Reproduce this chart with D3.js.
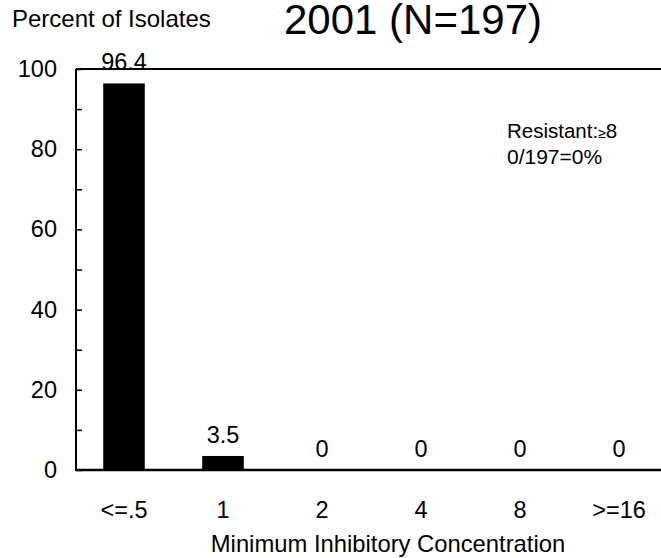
<!DOCTYPE html>
<html>
<head>
<meta charset="utf-8">
<script src="https://cdn.jsdelivr.net/npm/d3@7"></script>
<style>
  html, body { margin: 0; padding: 0; background: #fff; }
  svg text { font-family: "Liberation Sans", Arial, sans-serif; fill: #000; }
</style>
</head>
<body>
<svg id="chart" width="661" height="558"></svg>
<script>
// MIC distribution of isolates, 2001
const categories = ["<=.5", "1", "2", "4", "8", ">=16"];
const percents = [96.4, 3.5, 0, 0, 0, 0];
const majorTicks = [0, 20, 40, 60, 80, 100];
const minorTicks = [10, 30, 50, 70, 90];

const W = 661, H = 558;
const axisX = 76;
const svg = d3.select("#chart");

const x = d3.scaleBand()
  .domain(categories)
  .range([74.5, 668.5])
  .paddingInner(0.58)
  .paddingOuter(0.29);

const y = d3.scaleLinear().domain([0, 100]).range([470, 69]);

// bars
svg.append("g")
  .selectAll("rect")
  .data(categories.map((c, i) => ({ c, v: percents[i] })))
  .join("rect")
  .attr("x", d => x(d.c))
  .attr("width", x.bandwidth())
  .attr("y", d => y(d.v))
  .attr("height", d => y(0) - y(d.v))
  .attr("fill", "#000");

// value labels
svg.append("g")
  .selectAll("text")
  .data(categories.map((c, i) => ({ c, v: percents[i] })))
  .join("text")
  .attr("x", d => x(d.c) + x.bandwidth() / 2)
  .attr("y", d => y(d.v) - 13)
  .attr("text-anchor", "middle")
  .style("font-size", "23.5px")
  .text(d => d.v);

// y axis: major ticks with labels, minor ticks without
const yAxis = d3.axisLeft(y)
  .tickValues(majorTicks)
  .tickSizeInner(-6)
  .tickSizeOuter(0)
  .tickPadding(19);
const gy = svg.append("g").attr("transform", `translate(${axisX},0)`).call(yAxis);
gy.select(".domain").remove();
gy.selectAll(".tick line").attr("stroke", "#000").attr("stroke-width", 1.5);
gy.selectAll(".tick text").style("font-size", "23.5px").attr("font-family", null);

const gyMinor = svg.append("g").attr("transform", `translate(${axisX},0)`)
  .call(d3.axisLeft(y).tickValues(minorTicks).tickSizeInner(-6).tickSizeOuter(0).tickFormat(""));
gyMinor.select(".domain").remove();
gyMinor.selectAll(".tick line").attr("stroke", "#000").attr("stroke-width", 1.5);

// frame lines: left axis, baseline, top rule
svg.append("line").attr("x1", axisX).attr("x2", axisX).attr("y1", y(100)).attr("y2", y(0) + 1)
  .attr("stroke", "#000").attr("stroke-width", 2);
svg.append("line").attr("x1", axisX).attr("x2", W).attr("y1", y(0)).attr("y2", y(0))
  .attr("stroke", "#000").attr("stroke-width", 2.5);
svg.append("line").attr("x1", axisX).attr("x2", W).attr("y1", y(100)).attr("y2", y(100))
  .attr("stroke", "#000").attr("stroke-width", 2);

// x axis category labels
const gx = svg.append("g").attr("transform", `translate(0,${y(0)})`)
  .call(d3.axisBottom(x).tickSize(0).tickPadding(31));
gx.select(".domain").remove();
gx.selectAll(".tick text").style("font-size", "23.5px").attr("font-family", null);

// axis titles and heading
svg.append("text")
  .attr("x", 388).attr("y", 552)
  .attr("text-anchor", "middle")
  .style("font-size", "23.8px")
  .text("Minimum Inhibitory Concentration");

svg.append("text")
  .attr("x", 12).attr("y", 27)
  .style("font-size", "24px")
  .text("Percent of Isolates");

svg.append("text")
  .attr("x", 284).attr("y", 34)
  .style("font-size", "42px")
  .text("2001 (N=197)");

// resistance breakpoint note
const note = svg.append("text").attr("x", 507).attr("y", 138).style("font-size", "20.5px");
note.append("tspan").text("Resistant:");
note.append("tspan").style("font-size", "14px").text("\u2265");
note.append("tspan").text("8");
svg.append("text").attr("x", 507).attr("y", 164).style("font-size", "21px").text("0/197=0%");
</script>
</body>
</html>
